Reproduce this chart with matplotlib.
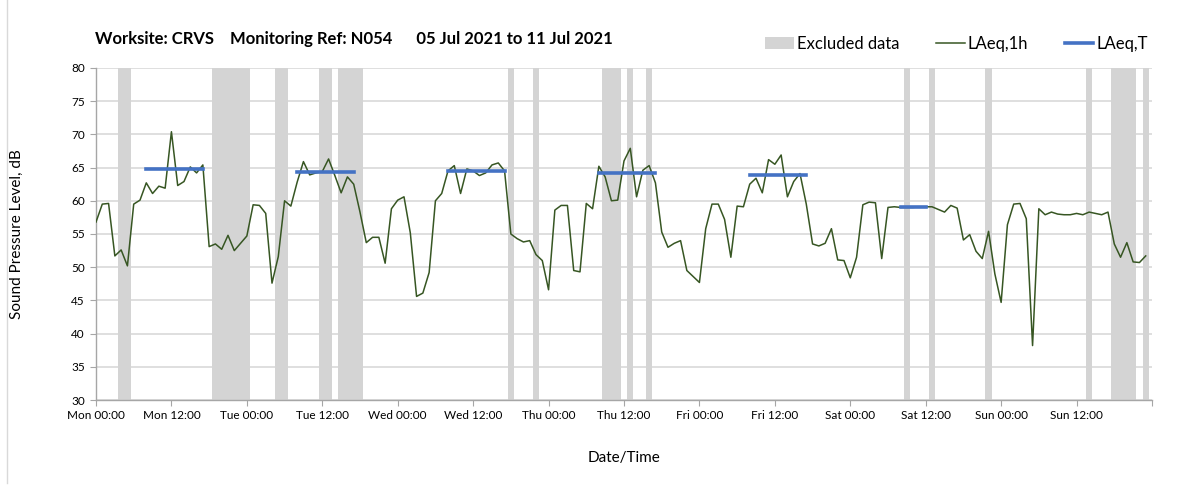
import matplotlib.pyplot as plt
import matplotlib.ticker as mtick
from matplotlib.patches import Patch
from matplotlib.lines import Line2D

plt.rcParams['font.family'] = ['Lato', 'DejaVu Sans']

# hourly LAeq,1h values, Mon 00:00 .. Sun 23:00 (one per hour)
laeq_1h = [
    56.8, 59.5, 59.6, 51.7, 52.6, 50.2, 59.5, 60.1, 62.7, 61.1, 62.2, 61.9,
    70.4, 62.3, 62.9, 65.1, 64.2, 65.4, 53.1, 53.5, 52.7, 54.8, 52.5, 53.6,
    54.7, 59.4, 59.3, 58.1, 47.6, 51.6, 60.0, 59.2, 62.8, 65.9, 63.9, 64.2,
    64.4, 66.3, 63.8, 61.2, 63.6, 62.5, 58.3, 53.7, 54.5, 54.5, 50.6, 58.8,
    60.1, 60.6, 55.2, 45.6, 46.1, 49.2, 60.0, 61.1, 64.5, 65.3, 61.1, 64.8,
    64.5, 63.8, 64.2, 65.4, 65.7, 64.5, 55.0, 54.3, 53.8, 54.0, 51.9, 51.0,
    46.6, 58.6, 59.3, 59.3, 49.5, 49.3, 59.6, 58.8, 65.2, 63.6, 60.0, 60.1,
    66.0, 67.9, 60.6, 64.6, 65.3, 62.7, 55.3, 53.0, 53.6, 54.0, 49.5, 48.6,
    47.7, 55.8, 59.5, 59.5, 57.2, 51.5, 59.2, 59.1, 62.5, 63.4, 61.2, 66.2,
    65.5, 66.9, 60.6, 62.9, 64.1, 59.5, 53.5, 53.2, 53.6, 55.8, 51.1, 51.0,
    48.4, 51.5, 59.4, 59.8, 59.7, 51.3, 59.0, 59.1, 59.0, 59.0, 59.0, 59.1,
    59.1, 59.1, 58.7, 58.3, 59.3, 58.9, 54.1, 54.9, 52.4, 51.3, 55.4, 49.0,
    44.7, 56.4, 59.5, 59.6, 57.3, 38.2, 58.8, 57.9, 58.3, 58.0, 57.9, 57.9,
    58.1, 57.9, 58.3, 58.1, 57.9, 58.3, 53.5, 51.5, 53.7, 50.8, 50.7, 51.7,
]
hours = list(range(len(laeq_1h)))

# hours flagged as excluded
excluded_hours = [4, 5, 19, 20, 21, 22, 23, 24, 29, 30, 36, 37, 39, 40, 41, 42,
                  66, 70, 81, 82, 83, 85, 88, 129, 133, 142, 158,
                  162, 163, 164, 165, 167]

# LAeq,T periods: first hour, last hour, level
period_start = [8, 32, 56, 80, 104, 128]
period_end = [17, 41, 65, 89, 113, 132]
period_level = [64.8, 64.3, 64.5, 64.2, 63.9, 59.0]

tick_hours = list(range(0, 169, 12))
tick_labels = ["Mon 00:00", "Mon 12:00", "Tue 00:00", "Tue 12:00", "Wed 00:00",
               "Wed 12:00", "Thu 00:00", "Thu 12:00", "Fri 00:00", "Fri 12:00",
               "Sat 00:00", "Sat 12:00", "Sun 00:00", "Sun 12:00", ""]

fig = plt.figure(figsize=(12.03, 4.88), dpi=100)
ax = fig.add_axes([0.0798, 0.1803, 0.8778, 0.6804])

# excluded data as full height grey bars
ax.bar(excluded_hours, 50, bottom=30, width=1.0, color='#d4d4d4', zorder=1)

ax.plot(hours, laeq_1h, color='#375623', linewidth=1.1, zorder=3)

for s, e, v in zip(period_start, period_end, period_level):
    ax.plot([s, e], [v, v], color='#4472c4', linewidth=2.6, zorder=4)

ax.set_xlim(0, 168)
ax.set_ylim(30, 80)
ax.set_xticks(tick_hours)
ax.set_xticklabels(tick_labels, fontsize=8.5)
ax.xaxis.set_minor_locator(mtick.MultipleLocator(24))
ax.yaxis.set_major_locator(mtick.MultipleLocator(5))
ax.tick_params(axis='y', labelsize=8.5, length=4, color='#a6a6a6', pad=4)
ax.tick_params(axis='x', which='major', length=4, color='#a6a6a6', pad=3)
ax.tick_params(axis='x', which='minor', length=0)

ax.grid(axis='y', which='major', color='#d9d9d9', linewidth=1.2, zorder=0)
ax.grid(axis='x', which='minor', color='#e6e6e6', linewidth=1.0, zorder=0)
ax.grid(axis='x', which='major', visible=False)
ax.set_axisbelow(True)

for side in ['top', 'right']:
    ax.spines[side].set_visible(False)
for side in ['left', 'bottom']:
    ax.spines[side].set_color('#a6a6a6')
    ax.spines[side].set_linewidth(1.0)

ax.set_ylabel("Sound Pressure Level, dB", fontsize=11, labelpad=34)
ax.set_xlabel("Date/Time", fontsize=11, labelpad=22)

fig.text(0.079, 0.92, "Worksite: CRVS    Monitoring Ref: N054      05 Jul 2021 to 11 Jul 2021",
         fontsize=12, fontweight='bold', ha='left', va='center')

handles = [
    Patch(facecolor='#d4d4d4', edgecolor='none'),
    Line2D([0], [0], color='#375623', linewidth=1.1),
    Line2D([0], [0], color='#4472c4', linewidth=2.6),
]
fig.legend(handles, ["Excluded data", "LAeq,1h", "LAeq,T"],
           loc='center right', bbox_to_anchor=(0.967, 0.91), ncol=3,
           frameon=False, fontsize=12, handlelength=1.7, handletextpad=0.2,
           columnspacing=2.2)

fig.add_artist(Line2D([0.006, 0.006], [0.01, 1.0], transform=fig.transFigure,
                      color='#d9d9d9', linewidth=1.0))

fig.savefig("out.png", dpi=100)
